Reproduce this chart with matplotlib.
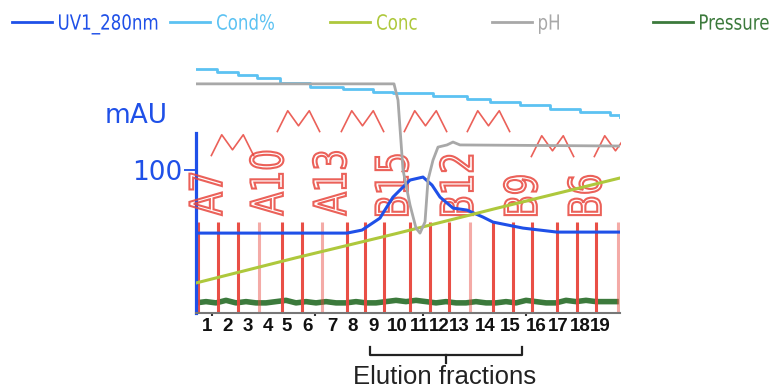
import numpy as np
import matplotlib
matplotlib.use("Agg")
import matplotlib.pyplot as plt
from matplotlib.font_manager import FontProperties
from matplotlib.lines import Line2D
from matplotlib.path import Path
from matplotlib.patches import PathPatch
from matplotlib.textpath import TextPath
from matplotlib.transforms import Affine2D, ScaledTranslation

# UV trace (mL, mAU)
uv_ml = [0, 15.1, 16.6, 18.4, 18.7, 19.7, 21.4, 22.7, 23.6, 24.4, 25.7, 27.1, 28.7, 29.7, 32.7, 36.1, 42.4]
uv_mau = [55.9, 55.9, 58.0, 66.4, 69.9, 81.1, 93.0, 95.1, 89.5, 81.1, 73.4, 72.0, 67.1, 63.6, 59.4, 56.6, 56.6]

# conductivity (%)
cond_ml = [0, 2.1, 4.2, 6.1, 8.4, 11.4, 14.7, 17.7, 19.7, 23.7, 27.1, 29.4, 32.4, 35.4, 38.4, 41.4, 42.4]
cond_pct = [96.4, 95.3, 94.1, 92.9, 90.9, 89.3, 88.5, 87.4, 87.0, 85.8, 84.6, 83.4, 82.2, 80.6, 79.4, 78.3, 77.5]

# concentration (%B)
conc_ml = [0, 10, 20, 30, 42.4]
conc_pct = [0, 24, 47, 71, 100]

# pH
ph_ml = [0, 19.8, 20.2, 20.7, 21.4, 22.0, 22.4, 22.9, 23.2, 23.7, 24.2, 25.1, 25.7, 26.4, 42.4]
ph_val = [8.34, 8.34, 7.89, 5.96, 4.99, 4.35, 4.21, 4.52, 5.68, 6.23, 6.59, 6.65, 6.73, 6.65, 6.62]

# pressure (MPa), one reading per mL
pres_ml = np.arange(0, 43)
pres_val = [0.08, 0.09, 0.08, 0.10, 0.08, 0.09, 0.08, 0.08, 0.09, 0.10, 0.08, 0.09, 0.08, 0.09,
            0.08, 0.08, 0.09, 0.08, 0.08, 0.09, 0.10, 0.09, 0.10, 0.09, 0.08, 0.09, 0.08, 0.08,
            0.09, 0.08, 0.08, 0.09, 0.08, 0.10, 0.09, 0.08, 0.08, 0.10, 0.09, 0.10, 0.09, 0.09, 0.09]

# fraction marks
frac_ml = [0.2, 2.2, 4.2, 6.3, 8.6, 10.6, 12.6, 15.1, 16.9, 18.8, 21.4, 23.4,
           25.3, 27.4, 29.7, 31.7, 33.6, 36.1, 38.1, 40.0, 42.2]
frac_faded = [3, 6, 13, 20]
tube_labels = ["A7", "A10", "A13", "B15", "B12", "B9", "B6"]

# event marks (mL, height in mAU)
event_ml = [3.6, 10.2, 16.6, 22.9, 29.2, 35.6, 41.9]
event_mau = [117.5, 134, 134, 134, 134, 116.5, 116.5]

# added fraction numbering
number_labels = [str(i) for i in range(1, 20)]
number_ml = [1.1, 3.2, 5.2, 7.2, 9.1, 11.2, 13.6, 15.7, 17.8, 20.1, 22.4, 24.3,
             26.3, 28.9, 31.4, 34.0, 36.2, 38.4, 40.4]

BLUE = "#1f50e8"
LBLUE = "#5cc2f2"
CONC = "#aec83c"
GRAY = "#a8a8a8"
GREEN = "#3c7a3c"
RED = "#e8453c"

W, H = 781, 392
fig = plt.figure(figsize=(W / 100, H / 100), dpi=100)
DEJAVU = FontProperties(family="DejaVu Sans")


def narrow_text(x, y, s, size, base, squeeze=0.75, rotation=0, hollow=False,
                color="k", offset=(0, 0), **kw):
    # condensed look: text path squeezed along the writing direction
    tp = TextPath((0, 0), s, size=size, prop=DEJAVU)
    bb = tp.get_extents()
    tr = (Affine2D().translate(-bb.x0, -size * 0.729 / 2).scale(squeeze / 72, 1 / 72)
          .rotate_deg(rotation).translate(offset[0] / 72, offset[1] / 72)
          + fig.dpi_scale_trans + ScaledTranslation(x, y, base))
    if hollow:
        p = PathPatch(tp, transform=tr, fc="none", ec=color, **kw)
    else:
        p = PathPatch(tp, transform=tr, fc=color, ec="none", **kw)
    fig.add_artist(p) if base is fig.transFigure else ax.add_artist(p)
    return p


rect = [196 / W, (H - 313) / H, 424 / W, 253 / H]
ax_p = fig.add_axes(rect)
ax = fig.add_axes(rect, sharex=ax_p)
ax_cond = ax.twinx()
ax_conc = ax.twinx()
ax_ph = ax.twinx()
ax_p.set_zorder(1)
ax.set_zorder(2)
ax.patch.set_visible(False)
for a in (ax_cond, ax_conc, ax_ph):
    a.set_zorder(3)

ax.set_xlim(0, 42.4)
ax.set_ylim(0, 177)
ax_cond.set_ylim(0, 100)
ax_conc.set_ylim(-28.6, 212.4)
ax_ph.set_ylim(2, 9)
ax_p.set_ylim(0, 2.0)
for a in (ax_p, ax_cond, ax_conc, ax_ph):
    a.axis("off")

# fractions
for i, x in enumerate(frac_ml):
    ax.vlines(x, 0, 63.6, color=RED, lw=2.2, alpha=0.45 if i in frac_faded else 0.95, zorder=2)
for i, lab in enumerate(tube_labels):
    # rotated tube label just right of its fraction mark, running upward
    narrow_text(frac_ml[i * 3], 68.5, lab, 32, ax.transData, squeeze=0.76, rotation=90,
                hollow=True, color=RED, offset=(5.5, 0), lw=1.5, alpha=0.85, zorder=3,
                clip_on=False)

zig = Path([(-1, -0.5), (-0.5, 0.5), (0, -0.2), (0.5, 0.5), (1, -0.5)])
ax.plot(event_ml, event_mau, ls="none", marker=zig, ms=31, mfc="none", mec=RED, mew=1.2,
        alpha=0.85, zorder=3)

ax.plot(uv_ml, uv_mau, color=BLUE, lw=2.2, zorder=6)
ax_cond.plot(cond_ml, cond_pct, color=LBLUE, lw=2, drawstyle="steps-post")
ax_conc.plot(conc_ml, conc_pct, color=CONC, lw=2.2)
ax_ph.plot(ph_ml, ph_val, color=GRAY, lw=2)
ax_p.plot(pres_ml, pres_val, color=GREEN, lw=4)

# axes styling
for s in ("top", "right"):
    ax.spines[s].set_visible(False)
ax.spines["left"].set_color(BLUE)
ax.spines["left"].set_linewidth(2.3)
ax.spines["left"].set_bounds(0, 126)
ax.spines["bottom"].set_color("#777777")
ax.spines["bottom"].set_linewidth(1.5)
ax.set_yticks([100])
ax.set_yticklabels(["100"])
ax.tick_params(axis="y", colors=BLUE, length=9, width=1.3, pad=1, labelsize=19)
ax.set_xticks([1.6, 11.9, 22.7, 33.0])
ax.tick_params(axis="x", length=2.5, width=1.5, color="#333333", labelbottom=False)
fig.text(105 / W, 1 - 116 / H, "mAU", color=BLUE, fontsize=19, va="center", ha="left")

# fraction numbers and bracket
for lab, x in zip(number_labels, number_ml):
    ax.text(x, -0.055, lab, transform=ax.get_xaxis_transform(), ha="center", va="center",
            fontsize=13.5, fontweight="bold", family="Liberation Sans", color="#111111")
tr = ax.get_xaxis_transform()
ax.plot([17.4, 17.4, 32.6, 32.6], [-0.134, -0.166, -0.166, -0.134], transform=tr,
        color="#222222", lw=1.6, clip_on=False, solid_joinstyle="round")
ax.plot([25.0, 25.0], [-0.166, -0.198], transform=tr, color="#222222", lw=1.6, clip_on=False)
ax.text(24.9, -0.253, "Elution fractions", transform=tr, ha="center", va="center",
        fontsize=18.5, family="Liberation Sans", color="#222222")

# legend
legend_items = [("UV1_280nm", BLUE, 12), ("Cond%", LBLUE, 170), ("Conc", CONC, 330),
                ("pH", GRAY, 492), ("Pressure", GREEN, 653)]
ly = 1 - 22 / H
for name, col, x0 in legend_items:
    fig.add_artist(Line2D([x0 / W, (x0 + 40) / W], [ly, ly], color=col, lw=2))
    narrow_text((x0 + 47) / W, ly, name, 15, fig.transFigure, squeeze=0.8, color=col)

fig.savefig("out.png", dpi=100)
